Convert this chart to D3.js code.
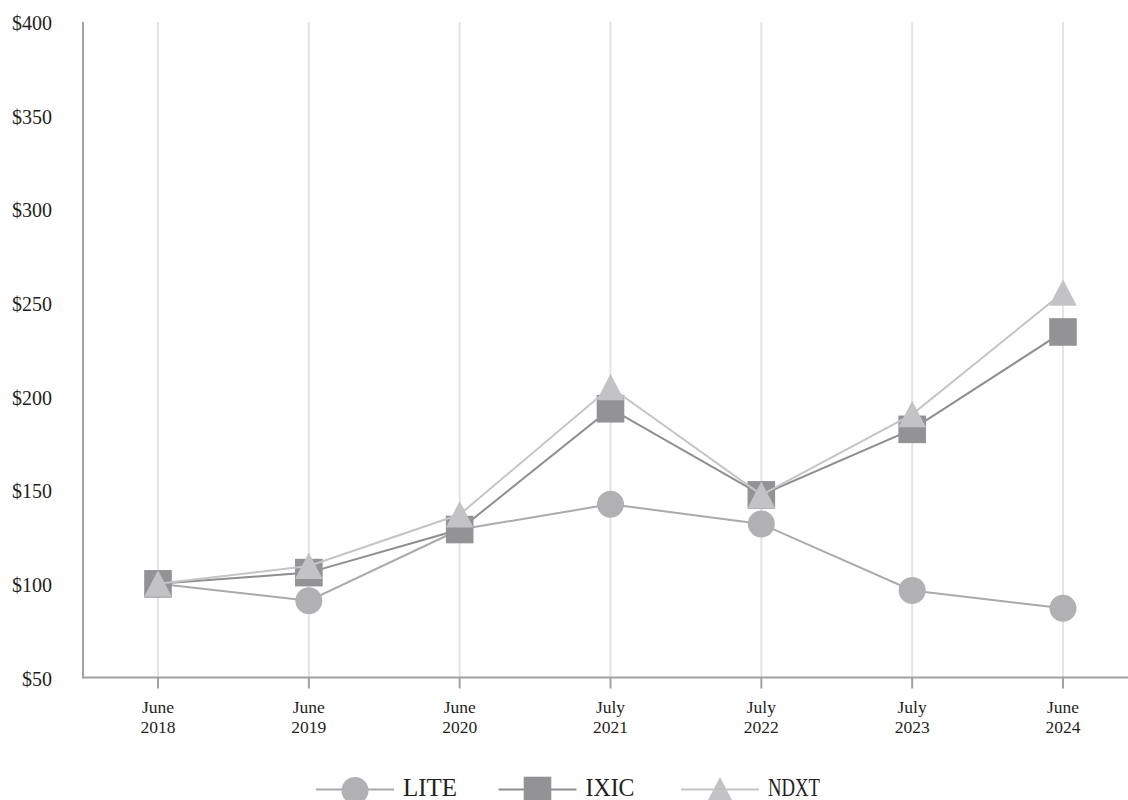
<!DOCTYPE html>
<html>
<head>
<meta charset="utf-8">
<script src="https://cdn.jsdelivr.net/npm/d3@7"></script>
<style>
  html, body { margin: 0; padding: 0; background: #fff; }
  svg { display: block; }
  text { font-family: "Liberation Serif", "Times New Roman", serif; fill: #231f20; }
</style>
</head>
<body>
<svg id="chart" width="1128" height="800"></svg>
<script>
const categories = ["June 2018", "June 2019", "June 2020", "July 2021", "July 2022", "July 2023", "June 2024"];
const liteValues = [100, 91, 129, 142.5, 132, 96.5, 87];
const ixicValues = [100, 106, 129, 193.5, 147.5, 182.5, 234.5];
const ndxtValues = [100, 109.5, 137, 205, 147.5, 190.5, 255.5];
const seriesNames = ["LITE", "IXIC", "NDXT"];
const yTicks = [50, 100, 150, 200, 250, 300, 350, 400];

const seriesList = [
  { name: seriesNames[0], values: liteValues, line: "#aaaaac", fill: "#b1b1b4", shape: "circle" },
  { name: seriesNames[1], values: ixicValues, line: "#8e8e91", fill: "#939396", shape: "square" },
  { name: seriesNames[2], values: ndxtValues, line: "#c5c5c7", fill: "#c3c3c6", shape: "triangle" }
];

const svg = d3.select("#chart");
const plotLeft = 83, plotRight = 1128, plotTop = 22, plotBottom = 677.5;

const x = d3.scalePoint().domain(categories).range([158, 1063]);
const y = d3.scaleLinear().domain([50, 400]).range([plotBottom, plotTop]);

// vertical grid lines
svg.append("g").selectAll("line").data(categories).join("line")
  .attr("x1", d => x(d)).attr("x2", d => x(d))
  .attr("y1", plotTop).attr("y2", plotBottom)
  .attr("stroke", "#e4e4e4").attr("stroke-width", 2);

// axes lines
svg.append("line").attr("x1", plotLeft).attr("x2", plotLeft).attr("y1", plotTop).attr("y2", plotBottom + 1)
  .attr("stroke", "#a2a2a5").attr("stroke-width", 2);
svg.append("line").attr("x1", plotLeft).attr("x2", plotRight).attr("y1", plotBottom).attr("y2", plotBottom)
  .attr("stroke", "#a2a2a5").attr("stroke-width", 2);

// x ticks
svg.append("g").selectAll("line").data(categories).join("line")
  .attr("x1", d => x(d)).attr("x2", d => x(d))
  .attr("y1", plotBottom).attr("y2", plotBottom + 11)
  .attr("stroke", "#a2a2a5").attr("stroke-width", 2);

// x labels
const xl = svg.append("g").selectAll("text").data(categories).join("text")
  .attr("text-anchor", "middle")
  .attr("font-size", "17.5px");
xl.append("tspan").attr("x", d => x(d)).attr("y", 712.5).text(d => d.split(" ")[0]);
xl.append("tspan").attr("x", d => x(d)).attr("y", 732.5).text(d => d.split(" ")[1]);

// y labels
svg.append("g").selectAll("text").data(yTicks).join("text")
  .attr("x", 52).attr("y", d => y(d)).attr("dy", "0.4em")
  .attr("text-anchor", "end").attr("font-size", "20px")
  .text(d => "$" + d);

function drawMarker(g, shape, cx, cy, fill) {
  if (shape === "circle") {
    g.append("circle").attr("cx", cx).attr("cy", cy).attr("r", 13.5).attr("fill", fill);
  } else if (shape === "square") {
    g.append("rect").attr("x", cx - 13.8).attr("y", cy - 13.8).attr("width", 27.6).attr("height", 27.6).attr("fill", fill);
  } else {
    g.append("path").attr("d", `M${cx},${cy - 13.5}L${cx + 13.8},${cy + 13}L${cx - 13.8},${cy + 13}Z`).attr("fill", fill);
  }
}

const lineGen = d3.line().x((d, i) => x(categories[i])).y(d => y(d));

seriesList.forEach(s => {
  const g = svg.append("g");
  g.append("path").datum(s.values).attr("d", lineGen)
    .attr("fill", "none").attr("stroke", s.line).attr("stroke-width", 2);
  s.values.forEach((v, i) => drawMarker(g, s.shape, x(categories[i]), y(v), s.fill));
});

// legend
const legendStarts = [316, 498.5, 681];
const legendWidths = [54, 49, 52];
const ly = 789.5;
seriesList.forEach((s, i) => {
  const g = svg.append("g");
  const x0 = legendStarts[i];
  g.append("line").attr("x1", x0).attr("x2", x0 + 78).attr("y1", ly).attr("y2", ly)
    .attr("stroke", s.line).attr("stroke-width", 2);
  drawMarker(g, s.shape, x0 + 39, ly + 1, s.fill);
  g.append("text").attr("x", x0 + 87).attr("y", 795.5)
    .attr("font-size", "26px")
    .attr("textLength", legendWidths[i]).attr("lengthAdjust", "spacingAndGlyphs")
    .text(s.name);
});
</script>
</body>
</html>
